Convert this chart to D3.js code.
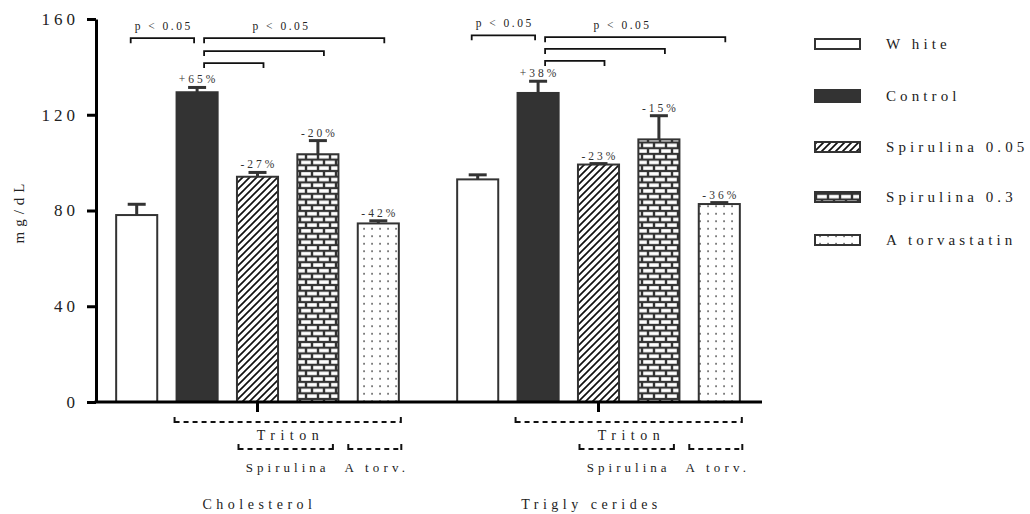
<!DOCTYPE html>
<html>
<head>
<meta charset="utf-8">
<script src="https://cdn.jsdelivr.net/npm/d3@7"></script>
<style>
  html, body { margin: 0; padding: 0; background: #fff; }
  svg { display: block; }
  text { font-family: "Liberation Serif", "Times New Roman", Times, serif; fill: #222; }
</style>
</head>
<body>
<svg id="chart" width="1030" height="514"></svg>
<script>
// ---------------- data ----------------
const groups = ["Cholesterol", "Trigly cerides"];
const series = ["White", "Control", "Spirulina 0.05", "Spirulina 0.3", "Atorvastatin"];
const legendLabels = ["W hite", "Control", "Spirulina 0.05", "Spirulina 0.3", "A torvastatin"];
const cholesterolMean = [78.1, 129.4, 94.1, 103.5, 74.6];
const cholesterolSEM  = [4.5, 2.0, 1.8, 5.7, 1.1];
const triglyceridesMean = [93.0, 129.1, 99.2, 109.7, 82.7];
const triglyceridesSEM  = [1.9, 4.9, 0.4, 9.9, 0.6];
const cholesterolPct = ["", "+65%", "-27%", "-20%", "-42%"];
const triglyceridesPct = ["", "+38%", "-23%", "-15%", "-36%"];
const yTicks = [0, 40, 80, 120, 160];
// significance brackets: [group index, from series, to series, level (mg/dL), label]
const sigBrackets = [
  [0, "White", "Control", 152, "p < 0.05"],
  [0, "Control", "Atorvastatin", 152, "p < 0.05"],
  [0, "Control", "Spirulina 0.3", 146.6, ""],
  [0, "Control", "Spirulina 0.05", 141.6, ""],
  [1, "White", "Control", 153.2, "p < 0.05"],
  [1, "Control", "Atorvastatin", 152.4, "p < 0.05"],
  [1, "Control", "Spirulina 0.3", 147.5, ""],
  [1, "Control", "Spirulina 0.05", 142.5, ""]
];
// treatment brackets under the axis: [label, from series, to series, row]
const treatBrackets = [
  ["Triton", "Control", "Atorvastatin", 0],
  ["Spirulina", "Spirulina 0.05", "Spirulina 0.3", 1],
  ["A torv.", "Atorvastatin", "Atorvastatin", 1]
];

const values = [cholesterolMean, triglyceridesMean];
const sems = [cholesterolSEM, triglyceridesSEM];
const pcts = [cholesterolPct, triglyceridesPct];

// ---------------- layout ----------------
const svg = d3.select("#chart");
const dark = "#333";
const axisLeftX = 96, axisRightX = 762;

const y = d3.scaleLinear().domain([0, 160]).range([402, 19]);
const x0 = d3.scaleBand().domain(groups).range([87, 769]).padding(0);
const xi = d3.scaleBand().domain(series).range([-151, 151]).paddingInner(0.32).paddingOuter(0.16);
const cx = (g, s) => x0(groups[g]) + x0.bandwidth() / 2 + xi(s) + xi.bandwidth() / 2;
const bw = xi.bandwidth();

// ---------------- patterns ----------------
const defs = svg.append("defs");
const hatch = defs.append("pattern").attr("id", "hatch").attr("patternUnits", "userSpaceOnUse")
  .attr("width", 7).attr("height", 7);
hatch.append("rect").attr("width", 7).attr("height", 7).attr("fill", "#fff");
hatch.append("path").attr("d", "M-1,1 L1,-1 M0,7 L7,0 M6,8 L8,6")
  .attr("stroke", "#111").attr("stroke-width", 1.7);

const brick = defs.append("pattern").attr("id", "brick").attr("patternUnits", "userSpaceOnUse")
  .attr("width", 12).attr("height", 11.4);
brick.append("rect").attr("width", 12).attr("height", 11.4).attr("fill", dark);
brick.append("rect").attr("x", 1.2).attr("y", 1.1).attr("width", 9.6).attr("height", 3.5).attr("fill", "#fff");
brick.append("rect").attr("x", -4.8).attr("y", 6.8).attr("width", 9.6).attr("height", 3.5).attr("fill", "#fff");
brick.append("rect").attr("x", 7.2).attr("y", 6.8).attr("width", 9.6).attr("height", 3.5).attr("fill", "#fff");

const dots = defs.append("pattern").attr("id", "dots").attr("patternUnits", "userSpaceOnUse")
  .attr("width", 8).attr("height", 7.5);
dots.append("rect").attr("width", 8).attr("height", 7.5).attr("fill", "#fff");
dots.append("rect").attr("x", 3.3).attr("y", 3).attr("width", 1.5).attr("height", 1.5).attr("fill", dark);

const fills = {"White": "#fff", "Control": dark, "Spirulina 0.05": "url(#hatch)", "Spirulina 0.3": "url(#brick)", "Atorvastatin": "url(#dots)"};

// ---------------- bars ----------------
groups.forEach((gName, g) => {
  const gg = svg.append("g");
  series.forEach((s, i) => {
    const v = values[g][i], e = sems[g][i];
    const c = cx(g, s);
    gg.append("line").attr("x1", c).attr("x2", c).attr("y1", y(v)).attr("y2", y(v + e))
      .attr("stroke", dark).attr("stroke-width", 3);
    gg.append("line").attr("x1", c - 9).attr("x2", c + 9).attr("y1", y(v + e)).attr("y2", y(v + e))
      .attr("stroke", dark).attr("stroke-width", 3);
    gg.append("rect").attr("x", c - bw / 2).attr("y", y(v)).attr("width", bw).attr("height", y(0) - y(v))
      .attr("fill", fills[s]).attr("stroke", dark).attr("stroke-width", 2);
    if (pcts[g][i]) {
      gg.append("text").attr("x", c + 1.5).attr("y", y(v + e) - 4)
        .attr("text-anchor", "middle").attr("font-size", 11.5).attr("letter-spacing", 3)
        .style("fill", "#333").text(pcts[g][i]);
    }
  });
});

// ---------------- axes ----------------
const yAxis = svg.append("g").attr("transform", `translate(${axisLeftX},0)`)
  .call(d3.axisLeft(y).tickValues(yTicks).tickSize(9).tickSizeOuter(0).tickPadding(8));
yAxis.select(".domain").attr("stroke", "#000").attr("stroke-width", 3);
yAxis.selectAll(".tick line").attr("stroke", "#000").attr("stroke-width", 3);
yAxis.selectAll(".tick text").attr("font-size", 17).attr("letter-spacing", 4).style("fill", "#222");

svg.append("line").attr("x1", axisLeftX - 1.5).attr("x2", axisRightX).attr("y1", y(0)).attr("y2", y(0))
  .attr("stroke", "#000").attr("stroke-width", 3);
const xAxis = svg.append("g").attr("transform", `translate(0,${y(0)})`)
  .call(d3.axisBottom(x0).tickSize(10).tickFormat(""));
xAxis.select(".domain").remove();
xAxis.selectAll(".tick line").attr("stroke", "#000").attr("stroke-width", 3);

svg.append("text").attr("transform", `translate(24,214) rotate(-90)`)
  .attr("text-anchor", "middle").attr("font-size", 15).attr("letter-spacing", 5).attr("dx", 3)
  .text("mg/dL");

// ---------------- significance brackets ----------------
sigBrackets.forEach(([g, a, b, lvl, label]) => {
  let xa, xb;
  if (a === "White") { xa = cx(g, a) - 6; xb = cx(g, b) - 3; }
  else { xa = cx(g, a) + 7; xb = cx(g, b) + 6; }
  const yy = y(lvl);
  svg.append("path").attr("d", `M${xa},${yy + 5} V${yy} H${xb} V${yy + 5}`)
    .attr("fill", "none").attr("stroke", "#111").attr("stroke-width", 1.8);
  if (label) {
    const lx = a === "White" ? (xa + xb) / 2 : (xa + xb) / 2 - 14;
    svg.append("text").attr("x", lx + 1.3).attr("y", yy - 8).attr("text-anchor", "middle")
      .attr("font-size", 11.5).attr("letter-spacing", 2.5).text(label);
  }
});

// ---------------- treatment brackets ----------------
const treatStyle = {"Triton": [14, 5.5], "Spirulina": [13, 4], "A torv.": [13, 4.2]};
groups.forEach((gName, g) => {
  treatBrackets.forEach(([label, a, b, row]) => {
    let xa, xb;
    if (row === 0) { xa = cx(g, a) - bw / 2 - 2; xb = cx(g, b) + bw / 2 + 2; }
    else if (a === b) { xa = cx(g, a) - 30; xb = cx(g, a) + 23; }
    else { xa = cx(g, a) - 19; xb = cx(g, b) + 15; }
    const yy = row === 0 ? 422 : 449;
    svg.append("line").attr("x1", xa).attr("x2", xb).attr("y1", yy).attr("y2", yy)
      .attr("stroke", "#111").attr("stroke-width", 2).attr("stroke-dasharray", "5,4");
    svg.append("line").attr("x1", xa).attr("x2", xa).attr("y1", yy - 5).attr("y2", yy + 1)
      .attr("stroke", "#111").attr("stroke-width", 2);
    svg.append("line").attr("x1", xb).attr("x2", xb).attr("y1", yy - 5).attr("y2", yy + 1)
      .attr("stroke", "#111").attr("stroke-width", 2);
    const [fs, ls] = treatStyle[label];
    svg.append("text").attr("x", (xa + xb) / 2 + ls / 2).attr("y", row === 0 ? 440 : 472)
      .attr("text-anchor", "middle").attr("font-size", fs).attr("letter-spacing", ls).text(label);
  });
  svg.append("text").attr("x", x0(gName) + x0.bandwidth() / 2 + (g === 0 ? 2 : -7)).attr("y", 509)
    .attr("text-anchor", "middle").attr("font-size", 14).attr("letter-spacing", 4.5).text(gName);
});

// ---------------- legend ----------------
const legendY = [44, 96, 147, 197, 240];
const legend = svg.append("g");
series.forEach((s, i) => {
  const ly = legendY[i];
  if (s === "Control") {
    legend.append("rect").attr("x", 814).attr("y", ly - 7).attr("width", 47).attr("height", 14)
      .attr("fill", dark);
  } else {
    legend.append("rect").attr("x", 815).attr("y", ly - 5).attr("width", 45).attr("height", 10)
      .attr("fill", fills[s]).attr("stroke", dark).attr("stroke-width", 2);
  }
  legend.append("text").attr("x", 886).attr("y", ly + 5).attr("font-size", 15)
    .attr("letter-spacing", 4.1).text(legendLabels[i]);
});
</script>
</body>
</html>
